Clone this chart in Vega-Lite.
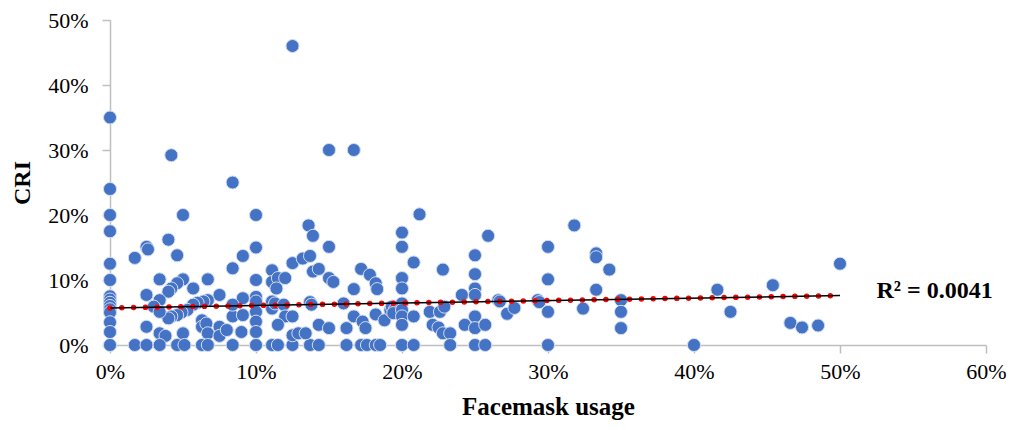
{
  "$schema": "https://vega.github.io/schema/vega-lite/v6.json",
  "width": 876,
  "height": 325,
  "autosize": {"type": "none"},
  "padding": {"left": 110, "top": 20, "right": 25, "bottom": 85},
  "background": "white",
  "config": {
    "view": {"stroke": null},
    "font": "Liberation Serif",
    "axis": {
      "grid": false,
      "domainColor": "#bfbfbf",
      "domainWidth": 1.5,
      "tickColor": "#bfbfbf",
      "tickWidth": 1.5,
      "tickSize": 8,
      "labelFont": "Liberation Serif",
      "labelFontSize": 22,
      "labelColor": "#000000",
      "titleFont": "Liberation Serif",
      "titleFontWeight": "bold",
      "titleColor": "#000000",
      "labelFlush": false,
      "labelOverlap": false,
      "labelBound": false
    }
  },
  "datasets": {
    "pts": [
      {"x": 0, "y": 35}, {"x": 0, "y": 24}, {"x": 0, "y": 20}, {"x": 0, "y": 17.5}, {"x": 0, "y": 12.5}, {"x": 0, "y": 10}, {"x": 0, "y": 7.5}, {"x": 0, "y": 7}, {"x": 0, "y": 6.5}, {"x": 0, "y": 6}, {"x": 0, "y": 5.5}, {"x": 0, "y": 5}, {"x": 0, "y": 3.5}, {"x": 0, "y": 2}, {"x": 0, "y": 0},
      {"x": 4.2, "y": 29.2}, {"x": 12.5, "y": 46}, {"x": 15, "y": 30}, {"x": 16.7, "y": 30}, {"x": 8.4, "y": 25},
      {"x": 1.7, "y": 13.4}, {"x": 2.5, "y": 15.1}, {"x": 2.6, "y": 14.7}, {"x": 4, "y": 16.2}, {"x": 4.6, "y": 13.8}, {"x": 5, "y": 20}, {"x": 10, "y": 20}, {"x": 10, "y": 15}, {"x": 9.1, "y": 13.7}, {"x": 8.4, "y": 11.8}, {"x": 10, "y": 10}, {"x": 3.4, "y": 10.1}, {"x": 5, "y": 10.1},
      {"x": 4.6, "y": 9.5}, {"x": 4.2, "y": 8.7}, {"x": 4, "y": 8.2}, {"x": 6.7, "y": 10.1}, {"x": 5.7, "y": 8.7}, {"x": 2.5, "y": 7.7}, {"x": 3.4, "y": 6.9}, {"x": 7.5, "y": 7.7},
      {"x": 6.7, "y": 6.9}, {"x": 6.4, "y": 6.7}, {"x": 6, "y": 6.5}, {"x": 5.7, "y": 6.2},
      {"x": 5.3, "y": 5.4}, {"x": 4.9, "y": 5}, {"x": 4.6, "y": 4.6}, {"x": 4.2, "y": 4.4}, {"x": 4, "y": 4.1},
      {"x": 3, "y": 5.9}, {"x": 3.4, "y": 5.1}, {"x": 2.5, "y": 2.8}, {"x": 3.4, "y": 1.8}, {"x": 3.8, "y": 1.4}, {"x": 5, "y": 1.8},
      {"x": 6.3, "y": 3.8}, {"x": 6.3, "y": 2.8}, {"x": 6.6, "y": 3.3}, {"x": 6.7, "y": 1.8},
      {"x": 7.5, "y": 2.8}, {"x": 7.5, "y": 1.4}, {"x": 8, "y": 2.3}, {"x": 8.4, "y": 4.4}, {"x": 9, "y": 2}, {"x": 9.1, "y": 4.6}, {"x": 9.1, "y": 7.2},
      {"x": 10, "y": 7.4}, {"x": 10, "y": 6.7}, {"x": 10, "y": 5.1}, {"x": 10, "y": 3.6}, {"x": 10, "y": 2}, {"x": 10, "y": 0}, {"x": 8.4, "y": 6.2},
      {"x": 1.7, "y": 0}, {"x": 2.5, "y": 0}, {"x": 3.4, "y": 0}, {"x": 4.6, "y": 0}, {"x": 5.1, "y": 0}, {"x": 6.3, "y": 0}, {"x": 6.7, "y": 0}, {"x": 8.4, "y": 0}, {"x": 11.1, "y": 0}, {"x": 11.5, "y": 0}, {"x": 12.5, "y": 0}, {"x": 13.7, "y": 0}, {"x": 14.3, "y": 0}, {"x": 16.2, "y": 0}, {"x": 17.2, "y": 0}, {"x": 17.6, "y": 0}, {"x": 18.2, "y": 0},
      {"x": 11.1, "y": 11.5}, {"x": 11.1, "y": 9.7}, {"x": 11.5, "y": 10.3}, {"x": 12, "y": 10.3}, {"x": 11.4, "y": 8.7}, {"x": 12.5, "y": 12.6},
      {"x": 13.2, "y": 13.3}, {"x": 13.7, "y": 13.7}, {"x": 13.6, "y": 18.4}, {"x": 13.9, "y": 16.8}, {"x": 15, "y": 15.1},
      {"x": 13.9, "y": 11.3}, {"x": 14.3, "y": 11.7}, {"x": 15, "y": 10.3}, {"x": 15.3, "y": 9.7},
      {"x": 11.1, "y": 6.7}, {"x": 11.1, "y": 5.6}, {"x": 11.3, "y": 6.4}, {"x": 11.9, "y": 6.2}, {"x": 12, "y": 4.4}, {"x": 12.5, "y": 4.4}, {"x": 11.5, "y": 3.1},
      {"x": 12.5, "y": 1.5}, {"x": 12.9, "y": 1.8}, {"x": 13.4, "y": 1.8}, {"x": 13.7, "y": 6.6}, {"x": 13.8, "y": 6.2}, {"x": 14.3, "y": 3.1}, {"x": 15, "y": 2.6},
      {"x": 16, "y": 6.4}, {"x": 16.7, "y": 8.6}, {"x": 17.2, "y": 11.7}, {"x": 17.8, "y": 10.8}, {"x": 18.2, "y": 9.5}, {"x": 18.3, "y": 8.6},
      {"x": 16.7, "y": 4.4}, {"x": 17.3, "y": 3.6}, {"x": 17.5, "y": 2.6}, {"x": 16.2, "y": 2.6}, {"x": 18.2, "y": 4.7}, {"x": 18.8, "y": 3.8}, {"x": 19.2, "y": 5.4},
      {"x": 18.5, "y": 0}, {"x": 19.3, "y": 5.9}, {"x": 19.5, "y": 5.4}, {"x": 19.4, "y": 4.9},
      {"x": 20, "y": 17.3}, {"x": 20, "y": 15.1}, {"x": 21.2, "y": 20.1}, {"x": 20.8, "y": 12.7}, {"x": 20, "y": 10.3}, {"x": 20, "y": 8.7},
      {"x": 20, "y": 6.4}, {"x": 20, "y": 5.4}, {"x": 20, "y": 4.4}, {"x": 20, "y": 3.1}, {"x": 20, "y": 0}, {"x": 20.8, "y": 4.4}, {"x": 20.8, "y": 0},
      {"x": 22.8, "y": 11.6}, {"x": 21.9, "y": 5.1}, {"x": 22.6, "y": 5.1}, {"x": 22.9, "y": 5.9},
      {"x": 22.1, "y": 3.1}, {"x": 22.5, "y": 2.7}, {"x": 22.8, "y": 1.8}, {"x": 23.3, "y": 1.8}, {"x": 23.3, "y": 0},
      {"x": 24.1, "y": 7.7}, {"x": 24.3, "y": 3.1},
      {"x": 25, "y": 13.8}, {"x": 25, "y": 10.9}, {"x": 25, "y": 8.7}, {"x": 25, "y": 7.7}, {"x": 25, "y": 4.4}, {"x": 25, "y": 2.6}, {"x": 25, "y": 0},
      {"x": 25.7, "y": 3.1}, {"x": 25.7, "y": 0}, {"x": 25.9, "y": 16.8}, {"x": 26.6, "y": 6.9}, {"x": 26.7, "y": 6.7},
      {"x": 27.2, "y": 4.8}, {"x": 27.7, "y": 5.7}, {"x": 29.3, "y": 6.9}, {"x": 29.4, "y": 6.6},
      {"x": 30, "y": 15.1}, {"x": 30, "y": 10.1}, {"x": 30, "y": 5.1}, {"x": 30, "y": 0},
      {"x": 31.8, "y": 18.4}, {"x": 32.4, "y": 5.6}, {"x": 33.3, "y": 14.1}, {"x": 33.3, "y": 13.5}, {"x": 33.3, "y": 8.5}, {"x": 34.2, "y": 11.6},
      {"x": 35, "y": 6.9}, {"x": 35, "y": 5.1}, {"x": 35, "y": 2.6},
      {"x": 40, "y": 0}, {"x": 41.6, "y": 8.5}, {"x": 42.5, "y": 5.1}, {"x": 45.4, "y": 9.2}, {"x": 46.6, "y": 3.4}, {"x": 47.4, "y": 2.7}, {"x": 48.5, "y": 3}, {"x": 50, "y": 12.5}
    ],
    "trend": [{"x": 0, "y": 5.7}, {"x": 50, "y": 7.6}],
    "lab": [{"x": 52.5, "y": 7.2, "t": "R² = 0.0041"}]
  },
  "layer": [
    {
      "data": {"name": "pts"},
      "mark": {"type": "circle", "size": 170, "color": "#4472C4", "opacity": 1, "stroke": "#d3def2", "strokeWidth": 1},
      "encoding": {
        "x": {
          "field": "x", "type": "quantitative",
          "scale": {"domain": [0, 60], "nice": false, "zero": true},
          "axis": {
            "title": "Facemask usage",
            "titleFontSize": 25,
            "titlePadding": 12,
            "labelPadding": 8,
            "values": [0, 10, 20, 30, 40, 50, 60],
            "labelExpr": "datum.value + '%'"
          }
        },
        "y": {
          "field": "y", "type": "quantitative",
          "scale": {"domain": [0, 50], "nice": false, "zero": true},
          "axis": {
            "title": "CRI",
            "titleFontSize": 24,
            "titlePadding": 13,
            "labelPadding": 14,
            "values": [0, 10, 20, 30, 40, 50],
            "labelExpr": "datum.value + '%'"
          }
        }
      }
    },
    {
      "data": {"name": "trend"},
      "mark": {"type": "line", "color": "#ff0000", "strokeWidth": 5.5, "strokeCap": "round", "strokeDash": [0.01, 11.8]},
      "encoding": {
        "x": {"field": "x", "type": "quantitative"},
        "y": {"field": "y", "type": "quantitative"}
      }
    },
    {
      "data": {"name": "trend"},
      "mark": {"type": "line", "color": "#000000", "strokeWidth": 1.5},
      "encoding": {
        "x": {"field": "x", "type": "quantitative"},
        "y": {"field": "y", "type": "quantitative"}
      }
    },
    {
      "data": {"name": "lab"},
      "mark": {"type": "text", "align": "left", "baseline": "alphabetic", "fontSize": 24, "fontWeight": "bold", "font": "Liberation Serif", "color": "#000000"},
      "encoding": {
        "x": {"field": "x", "type": "quantitative"},
        "y": {"field": "y", "type": "quantitative"},
        "text": {"field": "t"}
      }
    }
  ]
}
